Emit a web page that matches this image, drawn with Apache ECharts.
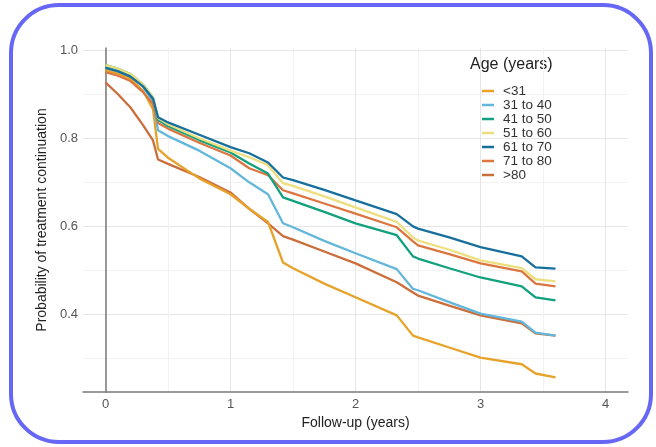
<!DOCTYPE html>
<html>
<head>
<meta charset="utf-8">
<script src="https://cdn.jsdelivr.net/npm/echarts@6/dist/echarts.min.js"></script>
<style>
html,body{margin:0;padding:0;background:#fff;}
#chart{width:656px;height:447px;}
</style>
</head>
<body>
<div id="chart"></div>
<script>
// Follow-up times (years)
var times = [0, 0.1, 0.2, 0.3, 0.38, 0.42, 0.5, 0.75, 1.0, 1.15, 1.3, 1.42, 1.5, 1.75, 2.0, 2.33, 2.46, 2.5, 2.75, 3.0, 3.33, 3.44, 3.6];

var categories = ['<31', '31 to 40', '41 to 50', '51 to 60', '61 to 70', '71 to 80', '>80'];

var ageUnder31 = [0.955, 0.947, 0.935, 0.908, 0.866, 0.776, 0.756, 0.709, 0.673, 0.640, 0.610, 0.518, 0.505, 0.470, 0.439, 0.398, 0.352, 0.348, 0.325, 0.302, 0.287, 0.266, 0.257];
var age31to40 = [0.962, 0.954, 0.942, 0.917, 0.884, 0.818, 0.805, 0.772, 0.732, 0.700, 0.673, 0.607, 0.598, 0.567, 0.539, 0.503, 0.458, 0.455, 0.428, 0.402, 0.384, 0.359, 0.352];
var age41to50 = [0.966, 0.958, 0.946, 0.922, 0.892, 0.842, 0.828, 0.796, 0.768, 0.743, 0.720, 0.666, 0.658, 0.633, 0.607, 0.580, 0.532, 0.527, 0.505, 0.484, 0.464, 0.439, 0.432];
var age51to60 = [0.966, 0.958, 0.946, 0.922, 0.892, 0.846, 0.832, 0.800, 0.772, 0.757, 0.739, 0.698, 0.692, 0.668, 0.643, 0.610, 0.575, 0.568, 0.547, 0.523, 0.505, 0.480, 0.475];
var age61to70 = [0.960, 0.952, 0.940, 0.918, 0.890, 0.848, 0.836, 0.808, 0.780, 0.766, 0.745, 0.711, 0.705, 0.683, 0.659, 0.628, 0.600, 0.595, 0.575, 0.553, 0.532, 0.507, 0.504];
var age71to80 = [0.950, 0.942, 0.930, 0.905, 0.878, 0.835, 0.822, 0.790, 0.761, 0.732, 0.716, 0.682, 0.675, 0.652, 0.629, 0.598, 0.566, 0.557, 0.537, 0.516, 0.498, 0.470, 0.464];
var ageOver80 = [0.927, 0.900, 0.870, 0.830, 0.795, 0.752, 0.742, 0.712, 0.677, 0.640, 0.607, 0.578, 0.570, 0.543, 0.516, 0.473, 0.450, 0.443, 0.420, 0.398, 0.380, 0.357, 0.352];

var xTicks = [0, 1, 2, 3, 4];
var xMinor = [0.5, 1.5, 2.5, 3.5];
var yTicks = [0.4, 0.6, 0.8, 1.0];
var yMinor = [0.3, 0.5, 0.7, 0.9];

var colors = ['#E6A229', '#62B7DA', '#13A07E', '#EEDF7E', '#17709C', '#DC7640', '#CB6E3C'];
var seriesValues = [ageUnder31, age31to40, age41to50, age51to60, age61to70, age71to80, ageOver80];

function pairs(vals) {
  return times.map(function (t, i) { return [t, vals[i]]; });
}

var FONT = 'Liberation Sans, Arial, sans-serif';
var X_MIN = -0.18, X_MAX = 4.18, Y_MIN = 0.224, Y_MAX = 1.005;

var series = [];
var order = [6, 0, 1, 5, 2, 3, 4];
order.forEach(function (i) {
  series.push({
    name: categories[i],
    type: 'line',
    xAxisIndex: 0,
    yAxisIndex: 0,
    data: pairs(seriesValues[i]),
    showSymbol: false,
    symbol: 'none',
    lineStyle: { width: 2.3, color: colors[i] },
    itemStyle: { color: colors[i] },
    z: 3
  });
});

var chart = echarts.init(document.getElementById('chart'), null, { renderer: 'canvas' });
chart.setOption({
  animation: false,
  backgroundColor: '#ffffff',
  textStyle: { fontFamily: FONT },
  grid: { left: 83, right: 28, top: 48, bottom: 55, containLabel: false },
  xAxis: [
    {
      type: 'value', min: X_MIN, max: X_MAX,
      axisLine: { show: true, lineStyle: { color: '#7a7a7a', width: 1.5 } },
      axisTick: { show: false, customValues: xTicks },
      axisLabel: { customValues: xTicks, color: '#555', fontSize: 13, margin: 6, fontFamily: FONT },
      splitLine: { show: true, lineStyle: { color: '#e6e6e6', width: 1 } },
      name: 'Follow-up (years)', nameLocation: 'middle', nameGap: 20,
      nameTextStyle: { color: '#222', fontSize: 14, fontFamily: FONT }
    },
    {
      type: 'value', min: X_MIN, max: X_MAX, position: 'bottom',
      axisLine: { show: false }, axisTick: { show: false, customValues: xMinor },
      axisLabel: { show: false, customValues: xMinor },
      splitLine: { show: true, lineStyle: { color: '#f2f2f2', width: 1 } }
    }
  ],
  yAxis: [
    {
      type: 'value', min: Y_MIN, max: Y_MAX,
      axisLine: { show: true, lineStyle: { color: '#7a7a7a', width: 1.5 } },
      axisTick: { show: false, customValues: yTicks },
      axisLabel: { customValues: yTicks, color: '#555', fontSize: 13, margin: 5, fontFamily: FONT,
        formatter: function (v) { return v.toFixed(1); } },
      splitLine: { show: true, lineStyle: { color: '#e6e6e6', width: 1 } },
      name: 'Probability of treatment continuation', nameLocation: 'middle', nameGap: 28,
      nameTextStyle: { color: '#222', fontSize: 14, fontFamily: FONT }
    },
    {
      type: 'value', min: Y_MIN, max: Y_MAX, position: 'left',
      axisLine: { show: false }, axisTick: { show: false, customValues: yMinor },
      axisLabel: { show: false, customValues: yMinor },
      splitLine: { show: true, lineStyle: { color: '#f2f2f2', width: 1 } }
    }
  ],
  legend: {
    data: categories,
    orient: 'vertical',
    left: 477, top: 79,
    icon: 'rect',
    itemWidth: 12, itemHeight: 2.5, itemGap: 0,
    textStyle: { color: '#333', fontSize: 13.5, lineHeight: 14, fontFamily: FONT, padding: [0, 0, 0, 4] },
    selectedMode: false
  },
  graphic: [
    { type: 'text', left: 470, top: 57, style: { text: 'Age (years)', fill: '#222', fontSize: 16, fontFamily: FONT } },
    { type: 'rect', shape: { x: 11, y: 5, width: 640, height: 437, r: 48 },
      style: { fill: 'none', stroke: '#6767F5', lineWidth: 4 }, z: 100, silent: true }
  ],
  series: series
});
</script>
</body>
</html>
